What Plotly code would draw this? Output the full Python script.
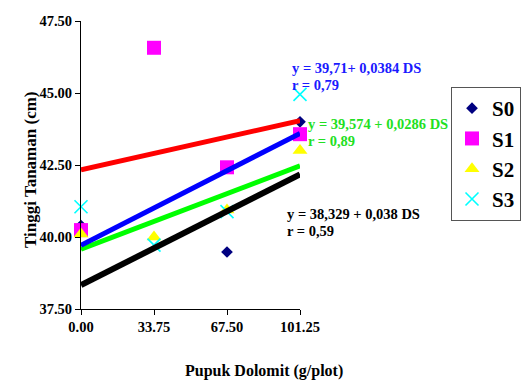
import plotly.graph_objects as go

# ---- data ----
x_levels = [0.0, 33.75, 67.5, 101.25]
x_ticklabels = ["0.00", "33.75", "67.50", "101.25"]
y_ticks = [37.5, 40.0, 42.5, 45.0, 47.5]
y_ticklabels = ["37.50", "40.00", "42.50", "45.00", "47.50"]

s0 = [40.4, None, 39.48, 44.0]   # 33.75 value lies below the axis (not visible)
s1 = [40.24, 46.57, 42.42, 43.57]
s2 = [40.1, 40.0, 40.94, 43.0]
s3 = [41.05, 39.72, 40.88, 44.95]

# trendline intercepts / slopes (S0, S1, S2, S3)
trend_intercept = [38.329, 42.33, 39.574, 39.71]
trend_slope = [0.038, 0.0169, 0.0286, 0.0384]
trend_colors = ["#000000", "#FF0000", "#00FF00", "#0000FF"]
trend_widths = [6, 5, 5, 5]

FONT = "Liberation Serif"

fig = go.Figure()

series = [
    ("S0", s0, dict(symbol="diamond", size=9, color="#000080")),
    ("S1", s1, dict(symbol="square", size=14, color="#FF00FF")),
    ("S2", s2, dict(symbol="triangle-up", size=13, color="#FFFF00")),
    ("S3", s3, dict(symbol="x-thin", size=13, color="#00FFFF",
                    line=dict(color="#00FFFF", width=1.6))),
]
for i, (name, vals, mk) in enumerate(series):
    fig.add_trace(go.Scatter(x=x_levels, y=vals, mode="markers", name="<b>%s</b>" % name,
                             marker=mk, cliponaxis=False, legendgroup=name))

x0, x1 = x_levels[0], x_levels[-1]
for b, m, c, w in zip(trend_intercept, trend_slope, trend_colors, trend_widths):
    fig.add_trace(go.Scatter(x=[x0, x1], y=[b + m * x0, b + m * x1], mode="lines",
                             line=dict(color=c, width=w), showlegend=False,
                             hoverinfo="skip"))

ann = []
W, H = 527, 380
L, R, T, B = 81, 300, 21, 309
def px(xp): return (xp - L) / (R - L)
def py(yp): return (B - yp) / (B - T)

def txt(x, y, s, color):
    ann.append(dict(x=px(x), y=py(y), xref="paper", yref="paper",
                    text="<b>%s</b>" % s,
                    showarrow=False, xanchor="left", yanchor="middle",
                    font=dict(family=FONT, size=14.5, color=color)))

txt(290, 68, "y = 39,71+ 0,0384 DS", "#1a1aff")
txt(290, 85, "r = 0,79", "#1a1aff")
txt(306, 124, "y = 39,574 + 0,0286 DS", "#22e022")
txt(306, 141, "r = 0,89", "#22e022")
txt(285, 214, "y = 38,329 + 0,038 DS", "#000000")
txt(285, 231, "r = 0,59", "#000000")

ann.append(dict(x=px(264), y=py(371), xref="paper", yref="paper",
                text="<b>Pupuk Dolomit (g/plot)</b>", showarrow=False,
                xanchor="center", yanchor="middle",
                font=dict(family=FONT, size=16, color="black")))
ann.append(dict(x=px(30), y=py(170), xref="paper", yref="paper",
                text="<b>Tinggi Tanaman (cm)</b>", showarrow=False, textangle=-90,
                xanchor="center", yanchor="middle",
                font=dict(family=FONT, size=17, color="black")))

fig.update_layout(
    width=W, height=H,
    margin=dict(l=L, r=W - R, t=T, b=H - B, pad=0, autoexpand=False),
    paper_bgcolor="white", plot_bgcolor="white",
    font=dict(family=FONT, color="black"),
    showlegend=True,
    legend=dict(x=px(451), y=py(87), xanchor="left", yanchor="top",
                bordercolor="#555555", borderwidth=1, bgcolor="white",
                font=dict(family=FONT, size=21, color="black"),
                tracegroupgap=0, itemsizing="trace",
                traceorder="grouped"),
    annotations=ann,
    xaxis=dict(range=[x0, x1], tickvals=x_levels, ticktext=["<b>%s</b>" % t for t in x_ticklabels],
               showgrid=False, zeroline=False, showline=True, linecolor="black",
               linewidth=1, ticks="outside", ticklen=5, tickcolor="black",
               tickfont=dict(family=FONT, size=14.5, color="black")),
    yaxis=dict(range=[37.5, 47.5], tickvals=y_ticks, ticktext=["<b>%s</b>" % t for t in y_ticklabels],
               showgrid=False, zeroline=False, showline=True, linecolor="black",
               linewidth=1, ticks="outside", ticklen=5, tickcolor="black",
               tickfont=dict(family=FONT, size=14.5, color="black")),
)

fig.write_html("out.html")
